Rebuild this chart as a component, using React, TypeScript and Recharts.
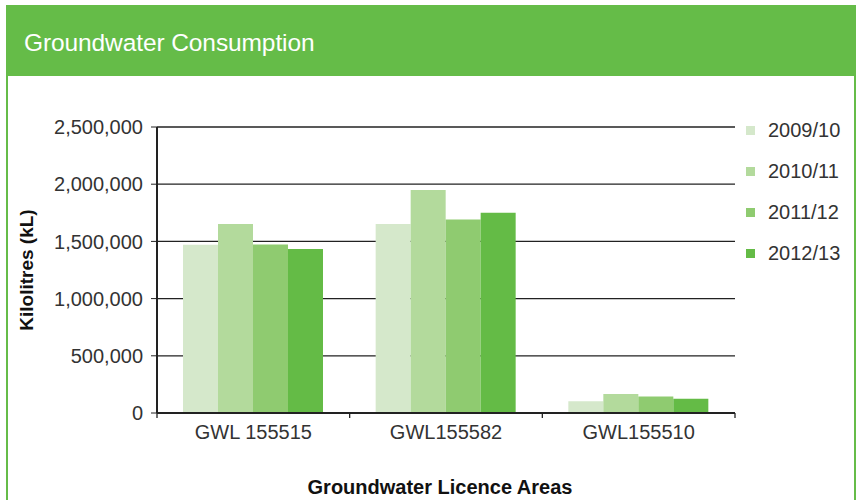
import { BarChart, Bar, XAxis, YAxis, CartesianGrid, Legend, Label } from 'recharts';

const AREAS = ['GWL 155515', 'GWL155582', 'GWL155510'];
const YEARS = ['2009/10', '2010/11', '2011/12', '2012/13'];
const Y2009_10 = [1470000, 1653000, 103000];
const Y2010_11 = [1653000, 1950000, 167000];
const Y2011_12 = [1472000, 1691000, 144000];
const Y2012_13 = [1433000, 1750000, 124000];
const Y_TICKS = [0, 500000, 1000000, 1500000, 2000000, 2500000];

const COLORS = ['#d5e8cb', '#b3da9c', '#8fcb70', '#64bb46'];
const GREEN = '#65bc48';
const FONT = '"Liberation Sans", Arial, sans-serif';
const X_TICK_SIZE = 6;
const X_TICK_MARGIN = 6;

const data = AREAS.map((area, i) => ({
    area,
    [YEARS[0]]: Y2009_10[i],
    [YEARS[1]]: Y2010_11[i],
    [YEARS[2]]: Y2011_12[i],
    [YEARS[3]]: Y2012_13[i],
}));

// category label in the middle, small tick marks on the category edges
function AreaTick(props: any) {
    const { x, y, payload, index, visibleTicksCount } = props;
    const half = payload.offset || 0;
    const axisY = y - X_TICK_SIZE - X_TICK_MARGIN;
    const last = index === visibleTicksCount - 1;
    return (
        <g>
            <line x1={x - half} x2={x - half} y1={axisY} y2={axisY + 5} stroke="#222" strokeWidth={1.3} />
            {last && <line x1={x + half} x2={x + half} y1={axisY} y2={axisY + 5} stroke="#222" strokeWidth={1.3} />}
            <text x={x} y={y} dy="0.71em" textAnchor="middle" fill="#333" fontSize={20}>
                {payload.value}
            </text>
        </g>
    );
}

function LegendList(props: any) {
    const items = props.payload || [];
    return (
        <div style={{ fontFamily: FONT }}>
            {items.map((it: any) => (
                <div key={it.value} style={{ height: 41, display: 'flex', alignItems: 'center' }}>
                    <span style={{ width: 9, height: 9, background: it.color, marginLeft: 6, marginRight: 13 }} />
                    <span style={{ fontSize: 20, color: '#333' }}>{it.value}</span>
                </div>
            ))}
        </div>
    );
}

export default function App() {
    return (
        <div style={{ position: 'absolute', left: 0, top: 0, width: 859, height: 500, overflow: 'hidden', background: '#fff' }}>
            {/* card frame + header */}
            <div style={{ position: 'absolute', left: 6, top: 5, width: 846, height: 520, border: `2px solid ${GREEN}`, borderTop: 'none' }} />
            <div style={{ position: 'absolute', left: 6, top: 5, width: 850, height: 71, background: GREEN, display: 'flex', alignItems: 'center' }}>
                <span style={{ marginLeft: 18, marginTop: 5, color: '#fff', fontFamily: FONT, fontSize: 24.5, letterSpacing: -0.1 }}>
                    Groundwater Consumption
                </span>
            </div>

            <div style={{ position: 'absolute', left: 0, top: 0 }}>
                <BarChart
                    width={859}
                    height={500}
                    data={data}
                    margin={{ top: 127, right: 124, bottom: 0, left: 0 }}
                    barCategoryGap={26}
                    barGap={0}
                    style={{ fontFamily: FONT }}
                >
                    <CartesianGrid vertical={false} stroke="#222" strokeWidth={1.3} />
                    <XAxis
                        dataKey="area"
                        height={87}
                        interval={0}
                        tickLine={false}
                        tickSize={X_TICK_SIZE}
                        tickMargin={X_TICK_MARGIN}
                        axisLine={{ stroke: '#222', strokeWidth: 2 }}
                        tick={AreaTick}
                    >
                        <Label
                            value="Groundwater Licence Areas"
                            position="insideBottom"
                            offset={6}
                            dx={-6}
                            style={{ fill: '#111', fontSize: 20, fontWeight: 700 }}
                        />
                    </XAxis>
                    <YAxis
                        width={157}
                        domain={[0, 2500000]}
                        ticks={Y_TICKS}
                        interval={0}
                        tickSize={6}
                        tickMargin={8}
                        axisLine={{ stroke: '#222', strokeWidth: 2 }}
                        tickLine={{ stroke: '#222' }}
                        tick={{ fill: '#333', fontSize: 20 }}
                        tickFormatter={(v: number) => v.toLocaleString('en-US')}
                    >
                        <Label
                            value="Kilolitres (kL)"
                            angle={-90}
                            position="insideLeft"
                            offset={26}
                            style={{ textAnchor: 'middle', fill: '#111', fontSize: 19, fontWeight: 700 }}
                        />
                    </YAxis>
                    <Legend
                        layout="vertical"
                        align="center"
                        verticalAlign="middle"
                        wrapperStyle={{ left: 740, top: 110, width: 119 }}
                        content={LegendList}
                    />
                    {YEARS.map((y, i) => (
                        <Bar key={y} dataKey={y} fill={COLORS[i]} isAnimationActive={false} />
                    ))}
                </BarChart>
            </div>
        </div>
    );
}
